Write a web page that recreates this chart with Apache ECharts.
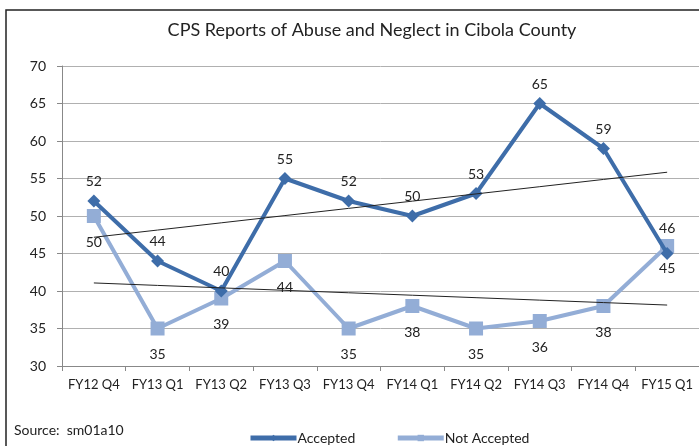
<!DOCTYPE html>
<html><head><meta charset="utf-8">
<script src="https://cdn.jsdelivr.net/npm/echarts@6/dist/echarts.min.js"></script>
<style>html,body{margin:0;padding:0;background:#fff}#c{width:699px;height:446px}</style>
</head><body><div id="c"></div>
<script>
var categories = ['FY12 Q4','FY13 Q1','FY13 Q2','FY13 Q3','FY13 Q4','FY14 Q1','FY14 Q2','FY14 Q3','FY14 Q4','FY15 Q1'];
var accepted = [52,44,40,55,52,50,53,65,59,45];
var notAccepted = [50,35,39,44,35,38,35,36,38,46];
var yTicks = [30,35,40,45,50,55,60,65,70];

function trend(arr){
  var n=arr.length, sx=0, sy=0, sxy=0, sxx=0;
  for(var i=0;i<n;i++){sx+=i;sy+=arr[i];sxy+=i*arr[i];sxx+=i*i;}
  var b=(n*sxy-sx*sy)/(n*sxx-sx*sx), a=(sy-b*sx)/n;
  return arr.map(function(_,i){return +(a+b*i).toFixed(3);});
}
var FONT = 'Lato';
var chart = echarts.init(document.getElementById('c'));
var accColor = '#3E6DA9', naColor = '#93ADD6';
chart.setOption({
  animation:false,
  backgroundColor:'#fff',
  graphic:[{type:'rect',shape:{x:6,y:10,width:720,height:460},style:{fill:'none',stroke:'#222',lineWidth:1.5},z:-1},
           {type:'text',left:14,top:423,style:{text:'Source:  sm01a10',font:'14px '+FONT,fill:'#222'}}],
  title:{text:'CPS Reports of Abuse and Neglect in Cibola County',left:367,textAlign:'center',top:16,
    textStyle:{fontFamily:FONT,fontSize:18,fontWeight:'normal',color:'#222'}},
  legend:{bottom:-4,left:243,itemWidth:46,itemHeight:8,itemGap:40,
    data:['Accepted','Not Accepted'],
    lineStyle:{width:5},
    textStyle:{fontFamily:FONT,fontSize:14,color:'#222',padding:[0,0,0,-4]}},
  grid:{left:62,top:66,width:642,height:300,containLabel:false},
  xAxis:{type:'category',data:categories,boundaryGap:true,
    axisLine:{lineStyle:{color:'#888'}},
    axisTick:{show:true,length:5,lineStyle:{color:'#888'}},
    axisLabel:{fontFamily:FONT,fontSize:13,color:'#222',margin:12,interval:0}},
  yAxis:{type:'value',min:30,max:70,interval:5,
    axisLine:{show:true,lineStyle:{color:'#888'}},
    axisTick:{show:true,length:5,lineStyle:{color:'#888'}},
    splitLine:{lineStyle:{color:'#b0b0b0',width:1}},
    axisLabel:{fontFamily:FONT,fontSize:14,color:'#222',margin:16}},
  series:[
    {name:'Accepted',type:'line',data:accepted,color:accColor,
     lineStyle:{width:4,color:accColor},symbol:'diamond',symbolSize:13,
     itemStyle:{color:accColor},
     label:{show:true,position:'top',distance:6,fontFamily:FONT,fontSize:14,color:'#222'},
     labelLayout:function(p){ if(p.dataIndex===accepted.length-1){return {dy:34};} return {}; },
     z:3},
    {name:'Not Accepted',type:'line',data:notAccepted,color:naColor,
     lineStyle:{width:4,color:naColor},symbol:'rect',symbolSize:14,
     itemStyle:{color:naColor},
     label:{show:true,position:'bottom',distance:12,fontFamily:FONT,fontSize:14,color:'#222'},
     labelLayout:function(p){ if(p.dataIndex===notAccepted.length-1){return {dy:-44};} return {}; },
     z:2},
    {name:'AccTrend',type:'line',data:trend(accepted),symbol:'none',silent:true,
     lineStyle:{width:1,color:'#222'},z:4},
    {name:'NaTrend',type:'line',data:trend(notAccepted),symbol:'none',silent:true,
     lineStyle:{width:1,color:'#222'},z:4}
  ]
});
</script></body></html>
